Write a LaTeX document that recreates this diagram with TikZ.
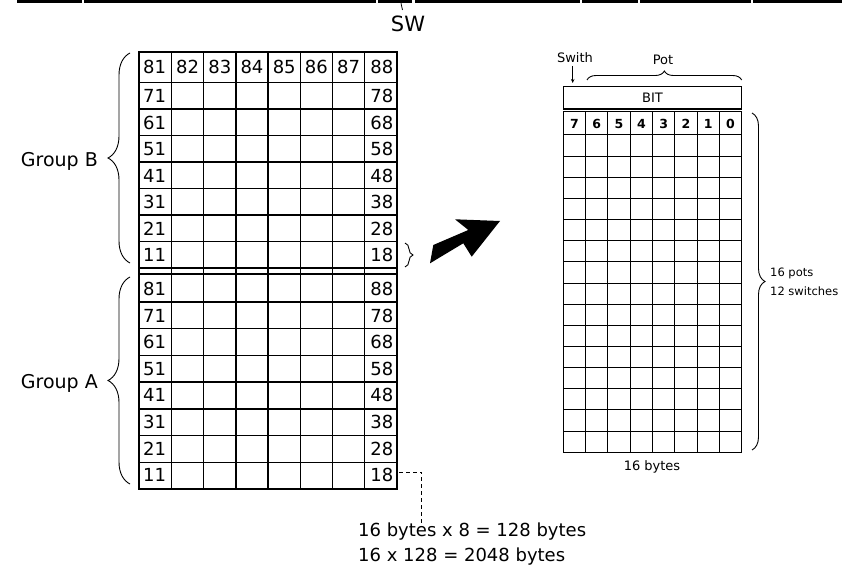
\documentclass[tikz,border=0pt]{standalone}
\usepackage{fontspec}
\setmainfont{DejaVu Sans}
\usetikzlibrary{decorations.pathreplacing,arrows.meta}
\begin{document}
\begin{tikzpicture}[x=1pt,y=-1pt,
  lbl/.style={inner sep=0pt, font=\fontsize{18}{18}\selectfont},
  grp/.style={inner sep=0pt, font=\fontsize{19}{19}\selectfont},
  small/.style={inner sep=0pt, font=\fontsize{11.5}{11.5}\selectfont},
  mid/.style={inner sep=0pt, font=\fontsize{13}{13}\selectfont},
  hdr/.style={inner sep=0pt, font=\fontsize{12.5}{12.5}\selectfont\bfseries},
  gline/.style={line width=1.4pt},
  gouter/.style={line width=1.9pt},
  rline/.style={line width=1pt},
  router/.style={line width=1.5pt},
  bigbrace/.style={decorate, line width=0.9pt, decoration={brace, amplitude=#1}},
  leader/.style={line width=0.8pt, dash pattern=on 4pt off 3pt},
  barseg/.style={fill=black}]
\useasboundingbox (0,0) rectangle (851,569);

% top bar
\foreach \a/\b in {17/82, 84/375.5, 377.5/412, 415/580, 582/637.5, 640/751, 753/842}
  \fill[barseg] (\a,0) rectangle (\b,3.3);
\node[anchor=base, inner sep=0pt, font=\fontsize{21}{21}\selectfont] (sw) at (408,32) {SW};
\coordinate (swtick0) at (401,3.3);
\coordinate (swtick1) at (402.5,10);
\draw[line width=0.8pt] (swtick0) -- (swtick1);

% ---------- left grid ----------
\foreach \i in {0,...,8}
  \draw[gline] ({139.3+32.2*\i},52) -- ({139.3+32.2*\i},488.9);
\foreach \y in {82.7,109.2,135.7,162.2,188.7,215.2,241.7,268.2,274,302,328.7,355.4,382.1,408.8,435.5,462.2}
  \draw[gline] (139.3,\y) -- (396.9,\y);
\draw[gouter] (139.3,52) rectangle (396.9,488.9);

% group B labels
\foreach \n/\yc in {8/67.35, 7/95.95, 6/122.45, 5/148.95, 4/175.45, 3/201.95, 2/228.45, 1/254.95}{
  \node[lbl, anchor=west] (b\n1) at (143,\yc) {\n1};
  \node[lbl, anchor=east] (b\n8) at (393.5,\yc) {\n8};
}
\foreach \k in {2,...,7}
  \node[lbl] (b8\k) at ({139.3+32.2*(\k-1)+16.1},67.35) {8\k};

% group A labels
\foreach \n/\yc in {8/289, 7/315.6, 6/342.2, 5/368.8, 4/395.4, 3/422, 2/448.6, 1/475.2}{
  \node[lbl, anchor=west] (a\n1) at (143,\yc) {\n1};
  \node[lbl, anchor=east] (a\n8) at (393.5,\yc) {\n8};
}

% braces and group names
\draw[bigbrace=22pt] (130,263) -- (130,53);
\node[grp, anchor=base east] (grpB) at (98,167) {Group B};
\draw[bigbrace=22pt] (130,484) -- (130,277);
\node[grp, anchor=base east] (grpA) at (98,388) {Group A};
\draw[bigbrace=8pt] (405,243) -- (405,267);

% big arrow
\fill (430,263.3) -- (433.3,245) -- (468.3,230) -- (455,219.3) -- (500,221)
      -- (471.7,256.7) -- (463.3,243.3) -- cycle;

% dashed leader and totals
\node[lbl, anchor=base west] (calc1) at (358,536.7) {16 bytes x 8 = 128 bytes};
\node[lbl, anchor=base west] (calc2) at (358,561.7) {16 x 128 = 2048 bytes};
\coordinate (dstart) at (399,472);
\coordinate (dcorner) at (421.7,472);
\draw[leader] (dstart) -- (dcorner) -- (dcorner |- calc1.north);

% ---------- right grid ----------
\draw[router] (563.3,86.7) rectangle (741.7,109);
\node[mid] (bit) at (652.5,98) {BIT};
\foreach \i in {1,...,7}
  \draw[rline] ({563.3+22.3*\i},111.7) -- ({563.3+22.3*\i},452.3);
\draw[rline] (563.3,135) -- (741.7,135);
\foreach \k in {1,...,14}
  \draw[rline] (563.3,{135+21.15*\k}) -- (741.7,{135+21.15*\k});
\draw[router] (563.3,111.7) rectangle (741.7,452.3);
\foreach \d [count=\i from 0] in {7,6,5,4,3,2,1,0}
  \node[hdr] (bit\d) at ({563.3+22.3*\i+11.15},124) {\d};

\node[mid, anchor=base] (swith) at (575,62.7) {Swith};
\coordinate (swa0) at (572.7,66);
\coordinate (swa1) at (572.7,83);
\draw[line width=0.8pt, -{Stealth[length=4pt,width=3.5pt]}] (swa0) -- (swa1);
\draw[bigbrace=9pt] (587,80) -- (741.7,80);
\node[mid, anchor=base] (pot) at (663,65) {Pot};

\draw[bigbrace=13pt] (752,113) -- (752,450);
\node[small, anchor=base west] (pots) at (770,276.7) {16 pots};
\node[small, anchor=base west] (sws) at (770,295) {12 switches};
\node[mid, anchor=base] (bytes16) at (652,470) {16 bytes};
\end{tikzpicture}
\end{document}
